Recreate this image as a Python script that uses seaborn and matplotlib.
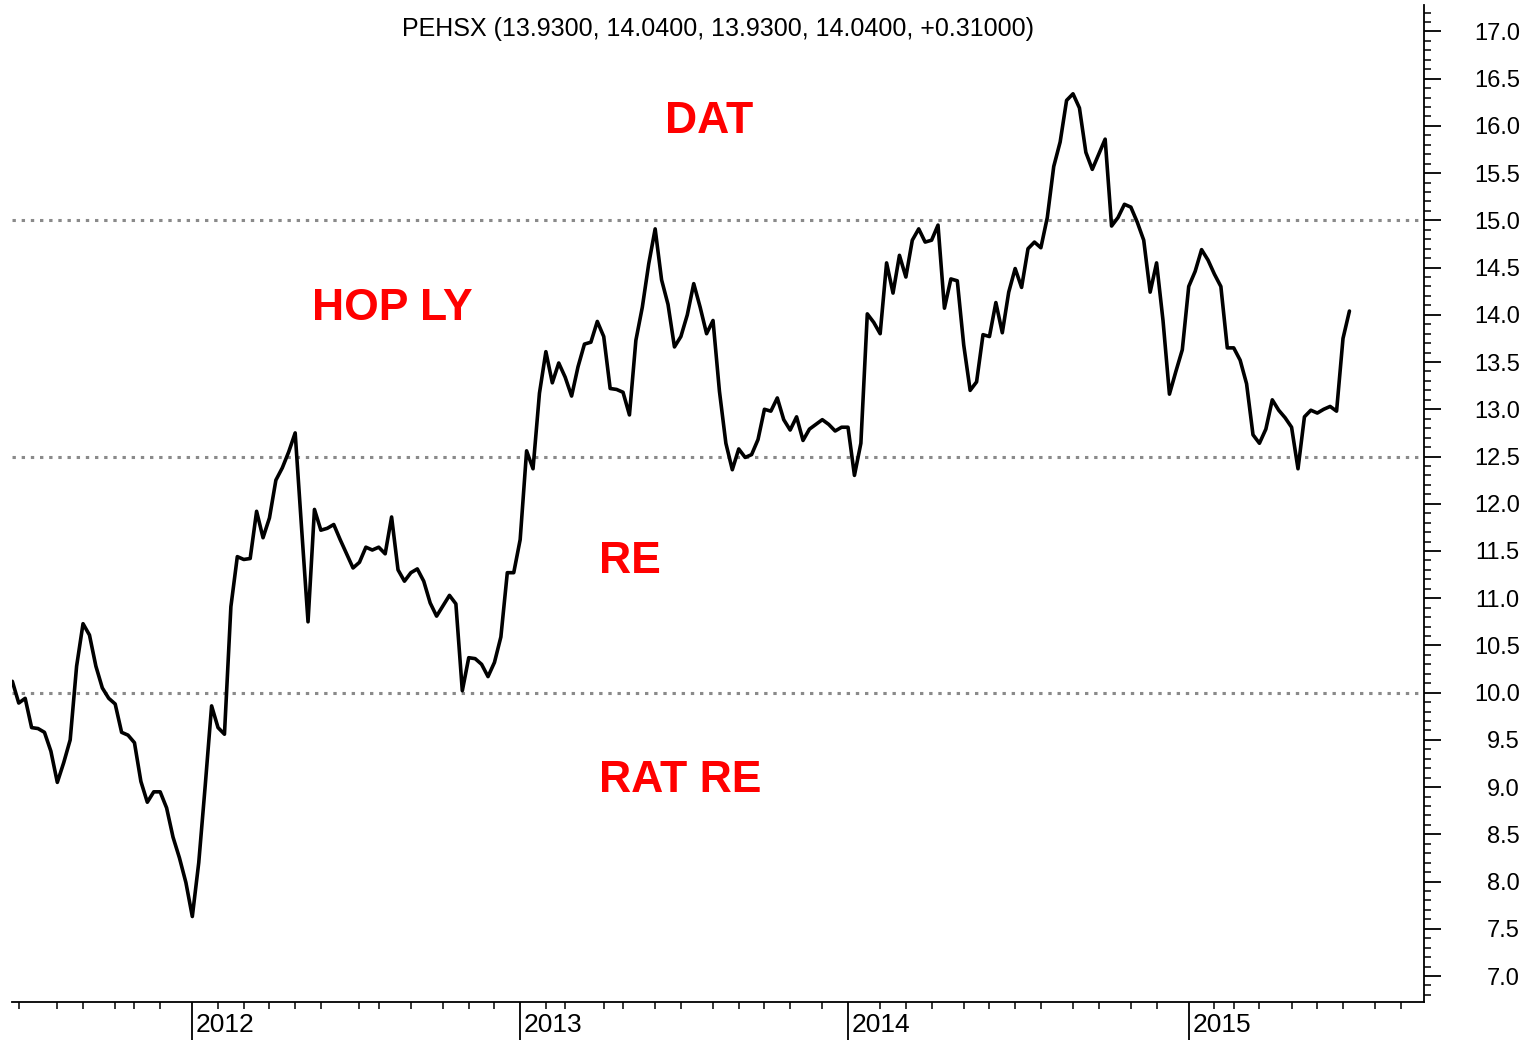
import numpy as np
import pandas as pd
import matplotlib
matplotlib.use("Agg")
import matplotlib.pyplot as plt
import seaborn as sns
from matplotlib.ticker import FixedLocator, MultipleLocator, FormatStrFormatter

# weekly closes of PEHSX, mid 2011 -> early July 2015
close = [
    10.12, 9.89, 9.94, 9.63, 9.62, 9.58, 9.38, 9.05, 9.26, 9.50,
    10.28, 10.73, 10.61, 10.28, 10.05, 9.94, 9.88, 9.58, 9.55, 9.47,
    9.06, 8.84, 8.95, 8.95, 8.78, 8.47, 8.25, 7.99, 7.63, 8.20,
    9.01, 9.86, 9.63, 9.56, 10.91, 11.44, 11.41, 11.42, 11.92, 11.64,
    11.85, 12.25, 12.38, 12.55, 12.75, 11.74, 10.75, 11.94, 11.72, 11.74,
    11.78, 11.62, 11.47, 11.32, 11.38, 11.54, 11.51, 11.54, 11.47, 11.86,
    11.30, 11.18, 11.27, 11.31, 11.18, 10.95, 10.81, 10.92, 11.03, 10.94,
    10.02, 10.37, 10.36, 10.30, 10.17, 10.32, 10.59, 11.27, 11.27, 11.62,
    12.56, 12.37, 13.17, 13.61, 13.28, 13.49, 13.34, 13.14, 13.45, 13.69,
    13.71, 13.93, 13.77, 13.22, 13.21, 13.18, 12.94, 13.73, 14.08, 14.54,
    14.91, 14.37, 14.11, 13.66, 13.77, 14.00, 14.33, 14.08, 13.80, 13.94,
    13.19, 12.64, 12.36, 12.58, 12.49, 12.52, 12.68, 13.00, 12.98, 13.12,
    12.89, 12.78, 12.92, 12.67, 12.79, 12.84, 12.89, 12.84, 12.77, 12.81,
    12.81, 12.30, 12.64, 14.01, 13.92, 13.80, 14.55, 14.23, 14.63, 14.40,
    14.79, 14.91, 14.77, 14.79, 14.95, 14.07, 14.38, 14.36, 13.68, 13.20,
    13.29, 13.79, 13.77, 14.13, 13.81, 14.24, 14.49, 14.29, 14.70, 14.77,
    14.71, 15.03, 15.57, 15.83, 16.27, 16.34, 16.19, 15.72, 15.54, 15.70,
    15.86, 14.94, 15.03, 15.17, 15.14, 14.98, 14.79, 14.24, 14.55, 13.94,
    13.16, 13.40, 13.63, 14.30, 14.46, 14.69, 14.58, 14.43, 14.30, 13.65,
    13.65, 13.52, 13.27, 12.73, 12.64, 12.79, 13.10, 12.99, 12.91, 12.81,
    12.37, 12.92, 12.99, 12.96, 13.00, 13.03, 12.98, 13.75, 14.04,
]

# bar index where each year / month starts
year_labels = ["2012", "2013", "2014", "2015"]
year_start = [28, 79, 130, 183]
month_start = [1, 7, 11, 16, 19, 23,
               32, 36, 40, 44, 48, 54, 57, 62, 67, 71, 75,
               83, 86, 92, 95, 100, 104, 109, 113, 117, 121, 126,
               135, 139, 143, 148, 152, 156, 160, 165, 169, 174, 178,
               187, 190, 194, 199, 203, 207, 212, 216]

# valuation bands
levels = [10.0, 12.5, 15.0]
zone_names = ["DAT", "HOP LY", "RE", "RAT RE"]

title = "PEHSX (13.9300, 14.0400, 13.9300, 14.0400, +0.31000)"

sns.set_style("white")
plt.rcParams["font.family"] = ["Liberation Sans", "DejaVu Sans"]
plt.rcParams["text.color"] = "black"

fig = plt.figure(figsize=(15.4, 10.4), dpi=100)
ax = fig.add_axes([12 / 1540, 38 / 1040, 1412 / 1540, 997 / 1040])

df = pd.DataFrame({"week": np.arange(len(close)), "close": close})

for lvl in levels:
    ax.axhline(lvl, color="#8a8a8a", lw=2.2, ls=(0, (1.1, 1.9)), zorder=1)

sns.lineplot(data=df, x="week", y="close", ax=ax, color="black", lw=2.6, zorder=3)

ax.set_xlim(-0.05, 219.6)
ax.set_ylim(6.725, 17.28)
ax.set_xlabel("")
ax.set_ylabel("")

for side in ["left", "top"]:
    ax.spines[side].set_visible(False)
for side in ["right", "bottom"]:
    ax.spines[side].set_color("black")
    ax.spines[side].set_linewidth(1.3)

# price axis on the right
ax.yaxis.tick_right()
ax.set_yticks(np.arange(7.0, 17.01, 0.5))
ax.yaxis.set_major_formatter(FormatStrFormatter("%.1f"))
ax.yaxis.set_minor_locator(MultipleLocator(0.1))
ax.tick_params(axis="y", which="both", right=True, left=False, color="black")
ax.tick_params(axis="y", which="major", direction="out", length=12, width=1.3,
               pad=57, labelsize=17, labelcolor="black")
ax.tick_params(axis="y", which="minor", direction="out", length=4.8, width=1.1)
for lbl in ax.get_yticklabels():
    lbl.set_horizontalalignment("right")

# time axis: long year lines, short month ticks
ax.set_xticks(year_start)
ax.set_xticklabels([])
ax.xaxis.set_minor_locator(FixedLocator(month_start))
ax.tick_params(axis="x", which="both", bottom=True, top=False, color="black")
ax.tick_params(axis="x", which="major", direction="out", length=27.4, width=1.3)
ax.tick_params(axis="x", which="minor", direction="out", length=5, width=1.1)
for pos, lab in zip(year_start, year_labels):
    ax.annotate(lab, xy=(pos, 0), xycoords=ax.get_xaxis_transform(),
                xytext=(2.5, -16.5), textcoords="offset points",
                ha="left", va="center", fontsize=19, color="black")

ax.text(0.5, 0.976, title, transform=ax.transAxes, ha="center", va="center",
        fontsize=18, color="black")

# zone labels
zone_xy = [(101.5, 15.93), (46.6, 13.95), (91.3, 11.27), (91.3, 8.95)]
for name, (zx, zy) in zip(zone_names, zone_xy):
    ax.text(zx, zy, name, color="#ff0000", fontsize=32, fontweight="bold",
            ha="left", va="baseline")

fig.savefig("out.png", dpi=100)
